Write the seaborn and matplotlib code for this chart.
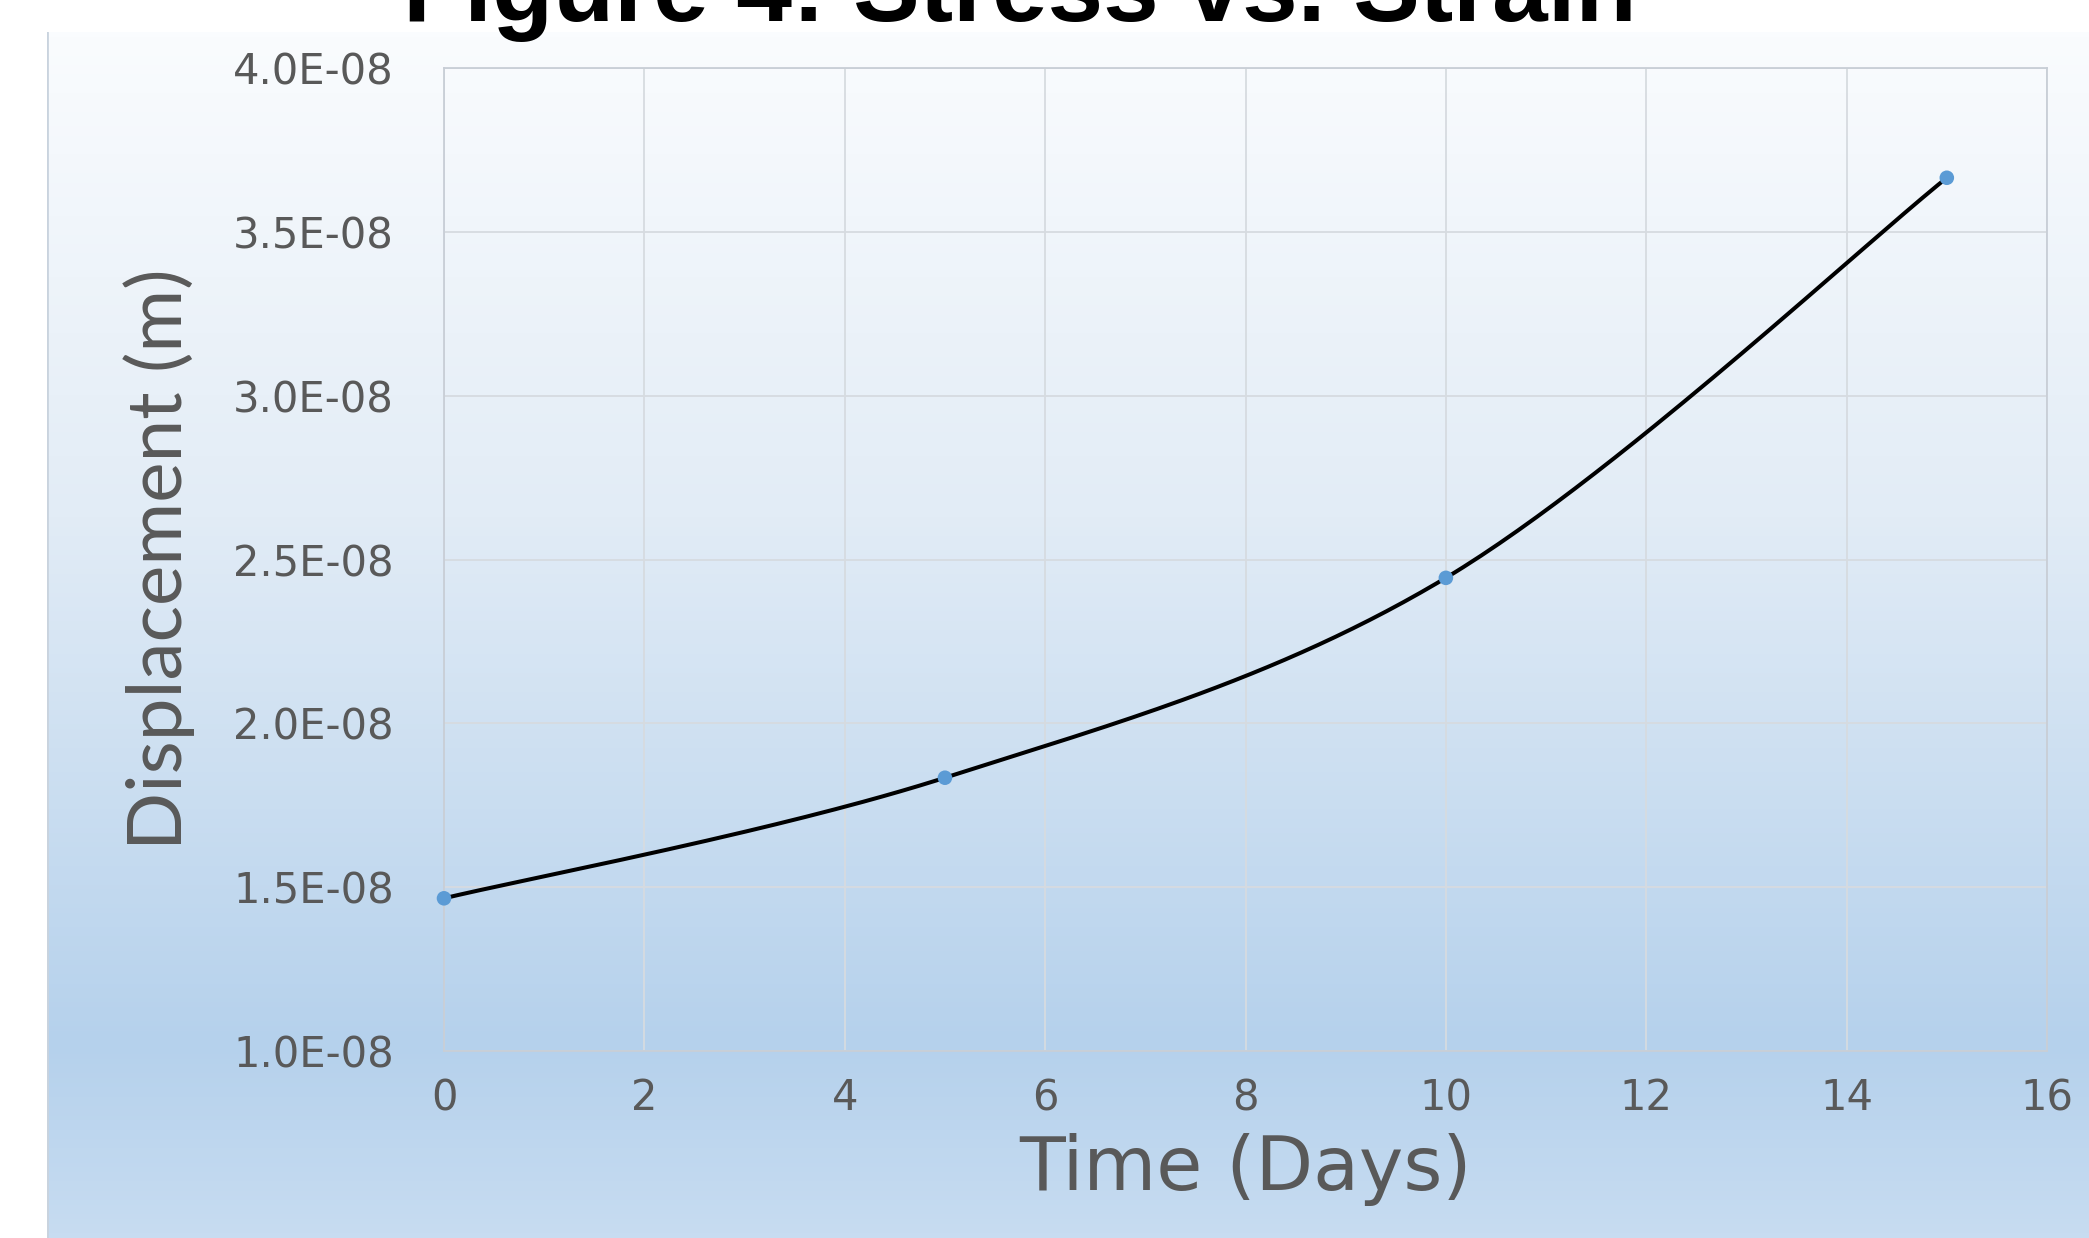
import numpy as np
import pandas as pd
import matplotlib
matplotlib.use("Agg")
import matplotlib.pyplot as plt
import seaborn as sns
from matplotlib.colors import LinearSegmentedColormap
from matplotlib.ticker import FuncFormatter

# Measured displacement over time
days = [0, 5, 10, 15]
displacement = [1.466e-08, 1.834e-08, 2.444e-08, 3.665e-08]

x_ticks = [0, 2, 4, 6, 8, 10, 12, 14, 16]
y_ticks = [1.0e-08, 1.5e-08, 2.0e-08, 2.5e-08, 3.0e-08, 3.5e-08, 4.0e-08]

title_text = "Figure 4: Stress vs. Strain"
x_label = "Time (Days)"
y_label = "Displacement (m)"

sns.set_theme(style="white")
plt.rcParams["font.family"] = ["DejaVu Sans"]

W, H = 2089, 1238
fig = plt.figure(figsize=(W / 100, H / 100), dpi=100)
fig.patch.set_facecolor("white")

# Gradient backdrop of the chart area
bg = fig.add_axes([47 / W, 0, 1 - 47 / W, 1 - 32 / H], zorder=-5)
grad_cmap = LinearSegmentedColormap.from_list(
    "panel",
    [(0.0, "#fafcfe"), (0.40, "#e2ecf6"), (0.84, "#b5d1ec"), (1.0, "#c7dcf1")],
)
bg.imshow(np.linspace(0, 1, 256).reshape(-1, 1), aspect="auto", cmap=grad_cmap,
          extent=[0, 1, 0, 1], origin="upper")
bg.axvline(0.0, color="#c9d3de", lw=2)
bg.set_axis_off()

ax = fig.add_axes([444 / W, 1 - 1051 / H, (2047 - 444) / W, (1051 - 68) / H])
ax.set_facecolor("none")

# Smoothed connecting curve (cubic Bezier segments through the points)
xs = np.asarray(days, dtype=float)
ys = np.asarray(displacement, dtype=float)
px = np.concatenate([[xs[0]], xs, [xs[-1]]])
py = np.concatenate([[ys[0]], ys, [ys[-1]]])
t = np.linspace(0, 1, 60)
cx, cy = [], []
for i in range(len(xs) - 1):
    p0 = np.array([px[i + 1], py[i + 1]])
    p3 = np.array([px[i + 2], py[i + 2]])
    p1 = p0 + (p3 - np.array([px[i], py[i]])) / 6.0
    p2 = p3 - (np.array([px[i + 3], py[i + 3]]) - p0) / 6.0
    b = ((1 - t) ** 3)[:, None] * p0 + (3 * (1 - t) ** 2 * t)[:, None] * p1 \
        + (3 * (1 - t) * t ** 2)[:, None] * p2 + (t ** 3)[:, None] * p3
    cx.extend(b[:, 0])
    cy.extend(b[:, 1])
curve = pd.DataFrame({"day": cx, "disp": cy})
points = pd.DataFrame({"day": days, "disp": displacement})

sns.lineplot(data=curve, x="day", y="disp", ax=ax, color="black", lw=2.9,
             sort=False, estimator=None, zorder=3)
sns.scatterplot(data=points, x="day", y="disp", ax=ax, color="#5b9bd5", s=110,
                edgecolor="none", zorder=4, clip_on=False)

ax.set_xlim(0, 16)
ax.set_ylim(1.0e-08, 4.0e-08)
ax.set_xticks(x_ticks)
ax.set_yticks(y_ticks)
ax.yaxis.set_major_formatter(FuncFormatter(lambda v, p: f"{v:.1E}"))
ax.grid(True, color="#d6dbe0", lw=1.3)
ax.set_axisbelow(True)
for name, sp in ax.spines.items():
    sp.set_color("#c8ced6")
    sp.set_linewidth(1.3)
ax.tick_params(axis="both", length=0, labelsize=30, labelcolor="#595959")
ax.tick_params(axis="y", pad=36)
ax.tick_params(axis="x", pad=19)

ax.set_xlabel(x_label, fontsize=54, color="#595959")
ax.xaxis.set_label_coords(0.5, -0.121)
ax.xaxis.label.set_va("center")
ax.set_ylabel(y_label, fontsize=55, color="#595959", family=["Lato", "DejaVu Sans"])
ax.yaxis.set_label_coords(-0.178, 0.5)
ax.yaxis.label.set_va("center")

fig.text(1020 / W, 1 - 21 / H, title_text, ha="center", va="baseline",
         fontsize=72, fontweight="bold", color="black",
         family=["Liberation Sans", "DejaVu Sans"])

fig.savefig("out.png", dpi=100, facecolor="white")
